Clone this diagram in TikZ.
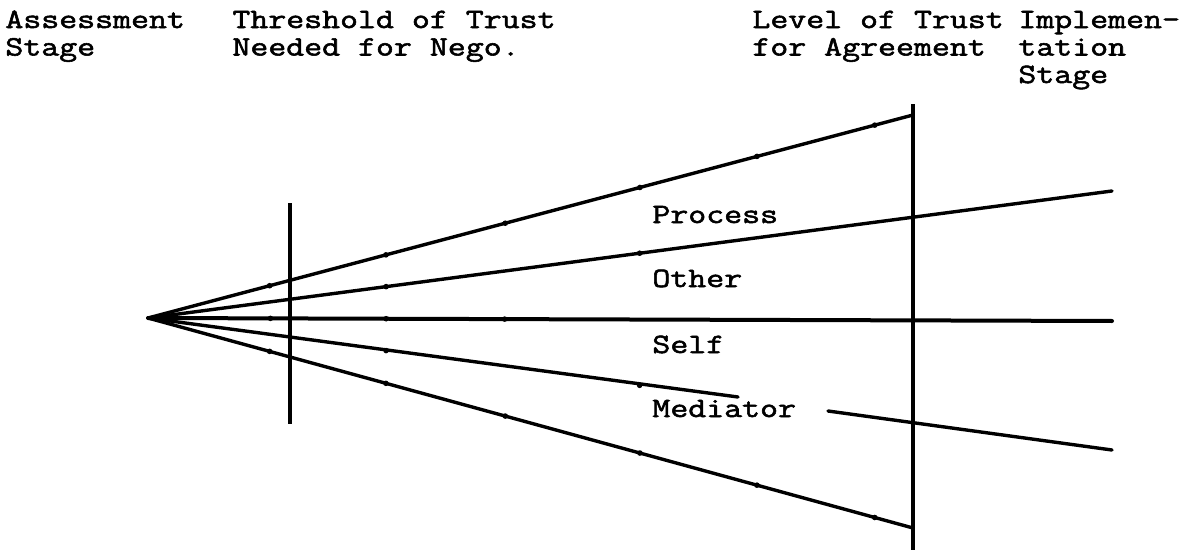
\documentclass[tikz,border=0pt]{standalone}
\usepackage{fontspec}
\newfontfamily\twfont{Latin Modern Mono}[FakeStretch=1.245,FakeBold=2]
\usetikzlibrary{calc}
\begin{document}
\begin{tikzpicture}[x=0.5pt,y=-0.5pt,
  txt/.style={inner sep=0pt,font=\twfont\fontsize{14pt}{13.75pt}\selectfont},
  head/.style={txt,anchor=base west,align=left},
  lab/.style={txt,anchor=base west},
  ray/.style={line width=1.7pt,line cap=round},
  bar/.style={line width=1.6pt},
  tick/.style={circle,fill=black,inner sep=0pt,minimum size=2.8pt}]
\useasboundingbox (0,0) rectangle (1191,557);
% headings (anchored at the baseline of the last line)
\node[head] (h1) at (5,55.5) {Assessment\\Stage};
\node[head] (h2) at (232,55.5) {Threshold of Trust\\Needed for Nego.};
\node[head] (h3) at (752,55.5) {Level of Trust\\for Agreement};
\node[head] (h4) at (1018,83) {Implemen-\\tation\\Stage};
% key points
\coordinate (O) at (148,318);
\coordinate (U) at (913,115);
\coordinate (P) at (1112,191);
\coordinate (S) at (1112,321);
\coordinate (M) at (1112,450);
\coordinate (L) at (913,528);
\coordinate (Ma) at (738,397);
\coordinate (Mb) at (828,411);
\coordinate (T1) at (290,203);
\coordinate (T2) at (290,424);
\coordinate (A1) at (913,104);
\coordinate (A2) at (913,550);
% vertical bars
\draw[bar] (T1) -- (T2);
\draw[bar] (A1) -- (A2);
% rays
\draw[ray] (O) -- (U);
\draw[ray] (O) -- (P);
\draw[ray,line width=2pt] (O) -- (S);
\draw[ray] (O) -- (Ma);
\draw[ray] (Mb) -- (M);
\draw[ray] (O) -- (L);
% tick dots
\foreach \t in {0.159,0.311,0.467,0.643,0.796,0.950}{
  \node[tick] at ($(O)!\t!(U)$) {};
  \node[tick] at ($(O)!\t!(L)$) {};
}
\foreach \t in {0.247,0.510}{
  \node[tick] at ($(O)!\t!(P)$) {};
  \node[tick] at ($(O)!\t!(M)$) {};
}
\foreach \t in {0.127,0.247,0.370}{
  \node[tick] at ($(O)!\t!(S)$) {};
}
% labels
\node[lab] (lp) at (652,223) {Process};
\node[lab] (lo) at (652,287) {Other};
\node[lab] (ls) at (652,353) {Self};
\node[lab] (lm) at (652,417) {Mediator};
\end{tikzpicture}
\end{document}
